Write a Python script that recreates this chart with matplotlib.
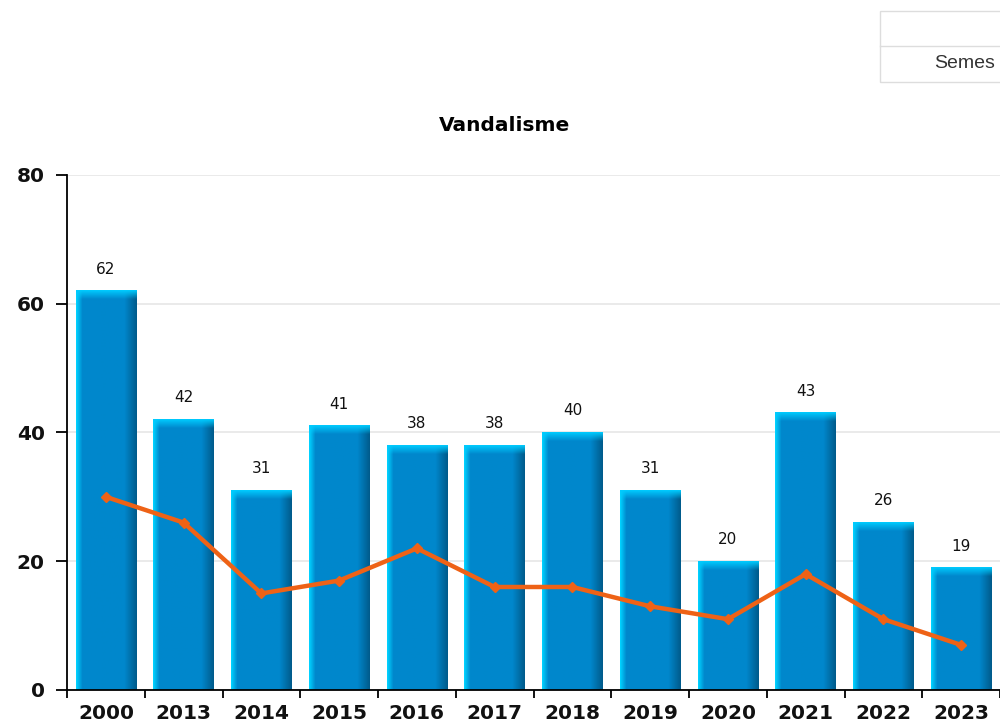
import numpy as np
import matplotlib.pyplot as plt
from matplotlib.patches import Rectangle

plt.rcParams['font.family'] = ['DejaVu Sans']

# --- Data ---
years = ['2000', '2013', '2014', '2015', '2016', '2017', '2018', '2019', '2020', '2021', '2022', '2023']
counts = [62, 42, 31, 41, 38, 38, 40, 31, 20, 43, 26, 19]
trend = [30, 26, 15, 17, 22, 16, 16, 13, 11, 18, 11, 7]

# --- Figure ---
fig = plt.figure(figsize=(10, 7.27), dpi=100)
ax = fig.add_axes([0.067, 0.0509, 0.933, 0.7084])

x = np.arange(len(years))
bar_w = 0.78

# horizontal gradient for the "cylinder" look
light = np.array([0.0, 0.82, 1.0])
body = np.array([0.0, 0.53, 0.80])
dark = np.array([0.0, 0.36, 0.55])
n = 60
grad = np.zeros((1, n, 3))
for k, p in enumerate(np.linspace(0, 1, n)):
    if p < 0.10:
        c = light + (body - light) * (p / 0.10)
    elif p > 0.80:
        c = body + (dark - body) * ((p - 0.80) / 0.20)
    else:
        c = body
    grad[0, k] = c
# top bevel: bright band fading into the body
capc = np.array([0.0, 0.80, 1.0])
cap = np.zeros((n, n, 3))
for r, q in enumerate(np.linspace(0, 1, n)):
    a = max(0.0, 1 - q * 1.2)
    cap[r] = capc * a + grad[0] * (1 - a)

for xi, v in zip(x, counts):
    x0, x1 = xi - bar_w / 2, xi + bar_w / 2
    ax.imshow(grad, extent=[x0, x1, 0, v], aspect='auto', zorder=2, interpolation='bilinear')
    ax.imshow(cap, extent=[x0, x1, v - 1.6, v], aspect='auto', origin='upper', zorder=2.1,
              interpolation='bilinear')
    ax.text(xi, v + 2.2, str(v), ha='center', va='bottom', fontsize=11, color='#111111')

ax.plot(x, trend, color='#ee6216', linewidth=3.2, marker='D', markersize=5, zorder=4)

ax.set_xlim(-0.5, len(years) - 0.5)
ax.set_ylim(0, 80)
ax.set_yticks([0, 20, 40, 60, 80])
ax.set_xticks(x)
ax.set_xticklabels(years)
ax.set_xticks(np.arange(-0.5, len(years), 1), minor=True)
ax.tick_params(axis='x', which='major', length=0, pad=10)
ax.tick_params(axis='x', which='minor', length=6, width=1.3, direction='out')
ax.tick_params(axis='y', length=8, width=1.3, direction='out', pad=8)
for lab in ax.get_xticklabels() + ax.get_yticklabels():
    lab.set_fontweight('bold')
    lab.set_fontsize(14.5)
    lab.set_color('#111111')

ax.grid(axis='y', color='#e6e6e6', linewidth=1.2, zorder=0)
ax.set_axisbelow(True)
ax.spines['top'].set_visible(False)
ax.spines['right'].set_visible(False)
ax.spines['left'].set_linewidth(1.3)
ax.spines['bottom'].set_linewidth(1.3)

fig.text(0.505, 0.828, 'Vandalisme', ha='center', va='center', fontsize=14.5, fontweight='bold')

# partial table at top right
fig.patches.append(Rectangle((0.880, 0.887), 0.2, 0.098, transform=fig.transFigure,
                             fill=False, edgecolor='#dddddd', linewidth=1))
fig.lines.append(plt.Line2D([0.880, 1.0], [0.937, 0.937], transform=fig.transFigure,
                            color='#dddddd', linewidth=1))
fig.text(0.934, 0.912, 'Semes', ha='left', va='center', fontsize=14,
         family='Liberation Sans', color='#333333')

plt.savefig('out.png', dpi=100)
